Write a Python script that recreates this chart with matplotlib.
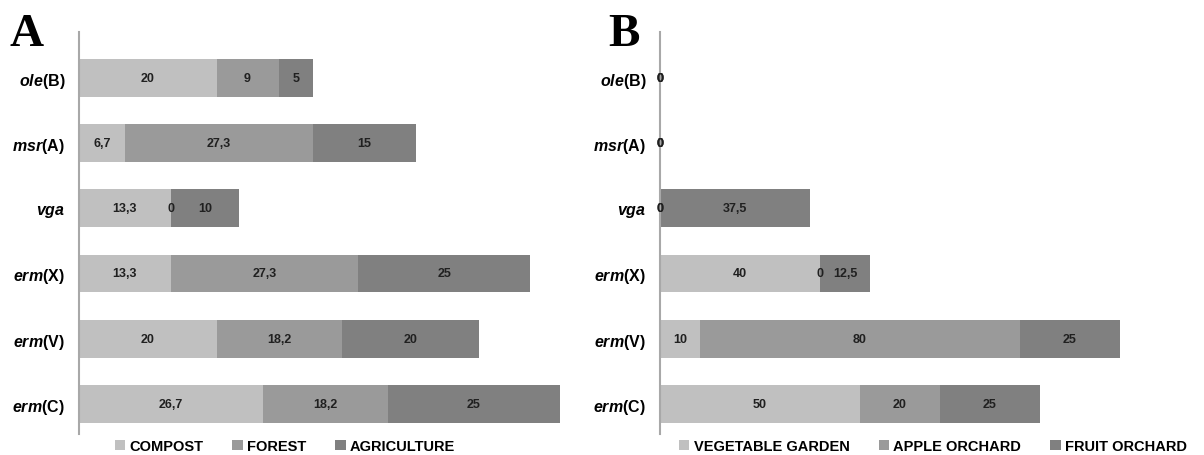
import numpy as np
import matplotlib
matplotlib.use("Agg")
import matplotlib.pyplot as plt

plt.rcParams["font.family"] = ["Liberation Sans", "DejaVu Sans"]
plt.rcParams["mathtext.fontset"] = "custom"
plt.rcParams["mathtext.it"] = "Liberation Sans:italic:bold"
plt.rcParams["mathtext.rm"] = "Liberation Sans:bold"

# categories listed bottom -> top
genes = [r"$\mathit{erm}$(C)", r"$\mathit{erm}$(V)", r"$\mathit{erm}$(X)",
         r"$\mathit{vga}$", r"$\mathit{msr}$(A)", r"$\mathit{ole}$(B)"]

compost = [26.7, 20, 13.3, 13.3, 6.7, 20]
forest = [18.2, 18.2, 27.3, 0, 27.3, 9]
agriculture = [25, 20, 25, 10, 15, 5]

vegetable_garden = [50, 10, 40, 0, 0, 0]
apple_orchard = [20, 80, 0, 0, 0, 0]
fruit_orchard = [25, 25, 12.5, 37.5, 0, 0]

colors = ["#c0c0c0", "#9a9a9a", "#808080"]


def fmt(v):
    s = f"{v:g}"
    return s.replace(".", ",")


def stacked(ax, series, names, xmax):
    y = np.arange(len(genes))
    left = np.zeros(len(genes))
    handles = []
    for vals, name, c in zip(series, names, colors):
        vals = np.array(vals, dtype=float)
        bars = ax.barh(y, vals, left=left, height=0.58, color=c, label=name)
        ax.bar_label(bars, labels=[fmt(v) for v in vals], label_type="center",
                     fontsize=9, fontweight="bold", color="#202020")
        handles.append(bars)
        left += vals
    ax.set_xlim(0, xmax)
    ax.set_ylim(-0.46, 5.7)
    ax.set_yticks(y)
    ax.set_yticklabels(genes, fontsize=11.5, fontweight="bold")
    ax.tick_params(axis="y", length=0, pad=10)
    ax.set_xticks([])
    for s in ["top", "right", "bottom"]:
        ax.spines[s].set_visible(False)
    ax.spines["left"].set_color("#a8a8a8")
    ax.spines["left"].set_linewidth(1.5)
    return handles


fig = plt.figure(figsize=(12.04, 4.56), dpi=100)
axA = fig.add_axes([79 / 1204, 21 / 456, 516 / 1204, 402 / 456])
axB = fig.add_axes([660 / 1204, 21 / 456, 520 / 1204, 402 / 456])

hA = stacked(axA, [compost, forest, agriculture],
             ["COMPOST", "FOREST", "AGRICULTURE"], 75)
hB = stacked(axB, [vegetable_garden, apple_orchard, fruit_orchard],
             ["VEGETABLE GARDEN", "APPLE ORCHARD", "FRUIT ORCHARD"], 130)

leg_kw = dict(loc="center", ncol=3, frameon=False, handlelength=0.7,
              handleheight=0.7, handletextpad=0.3, columnspacing=2.0,
              prop={"weight": "bold", "size": 10.5}, borderaxespad=0)
fig.legend(handles=hA, labels=["COMPOST", "FOREST", "AGRICULTURE"],
           bbox_to_anchor=(285 / 1204, 9 / 456), **leg_kw)
fig.legend(handles=hB, labels=["VEGETABLE GARDEN", "APPLE ORCHARD", "FRUIT ORCHARD"],
           bbox_to_anchor=(933 / 1204, 9 / 456), **leg_kw)

fig.text(9 / 1204, 1 - 46 / 456, "A", family="Liberation Serif",
         fontweight="bold", fontsize=34)
fig.text(608 / 1204, 1 - 46 / 456, "B", family="Liberation Serif",
         fontweight="bold", fontsize=34)

fig.savefig("out.png", dpi=100)
